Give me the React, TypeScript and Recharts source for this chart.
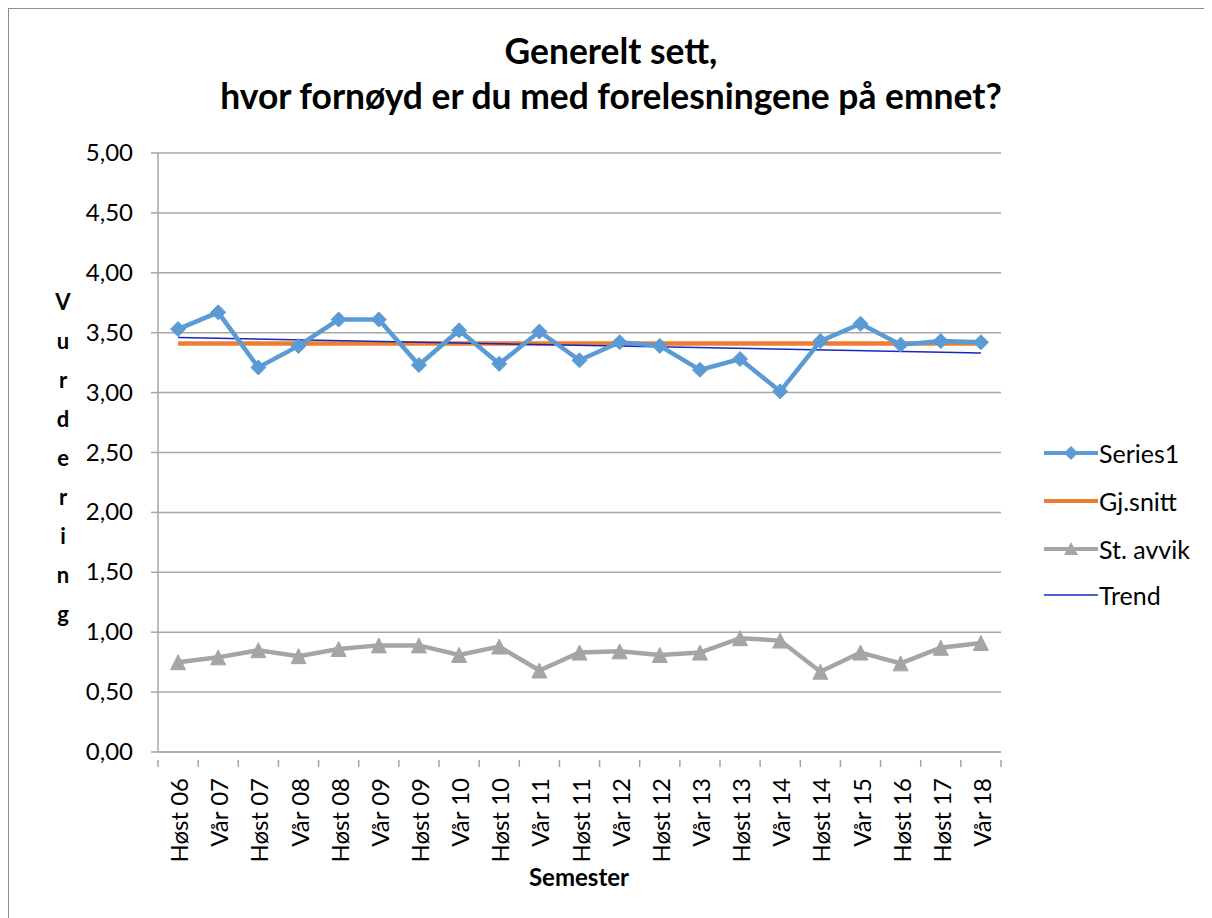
import React from "react";
import { LineChart, Line, XAxis, YAxis, CartesianGrid } from "recharts";

const categories = [
  "Høst 06", "Vår 07", "Høst 07", "Vår 08", "Høst 08", "Vår 09", "Høst 09",
  "Vår 10", "Høst 10", "Vår 11", "Høst 11", "Vår 12", "Høst 12", "Vår 13",
  "Høst 13", "Vår 14", "Høst 14", "Vår 15", "Høst 16", "Høst 17", "Vår 18",
];
const series1 = [
  3.53, 3.67, 3.21, 3.39, 3.61, 3.61, 3.23, 3.52, 3.24, 3.51, 3.27, 3.42,
  3.39, 3.19, 3.28, 3.01, 3.43, 3.575, 3.40, 3.43, 3.42,
];
const gjSnitt = [
  3.41, 3.41, 3.41, 3.41, 3.41, 3.41, 3.41, 3.41, 3.41, 3.41, 3.41, 3.41,
  3.41, 3.41, 3.41, 3.41, 3.41, 3.41, 3.41, 3.41, 3.41,
];
const stAvvik = [
  0.75, 0.79, 0.85, 0.80, 0.86, 0.89, 0.89, 0.81, 0.88, 0.68, 0.83, 0.84,
  0.81, 0.83, 0.95, 0.93, 0.67, 0.83, 0.74, 0.87, 0.91,
];
// trend line end points (first and last category)
const trendStart = 3.46;
const trendEnd = 3.33;
const yTicks = [0, 0.5, 1, 1.5, 2, 2.5, 3, 3.5, 4, 4.5, 5];

const data = categories.map((c, i) => ({
  cat: c,
  s1: series1[i],
  avg: gjSnitt[i],
  sd: stAvvik[i],
  trend: i === 0 ? trendStart : i === categories.length - 1 ? trendEnd : null,
}));

const FONT = "Lato, 'Open Sans', sans-serif";
const GRID = "#a6a6a6";
const C1 = "#5b9bd5";
const C2 = "#ed7d31";
const C3 = "#a5a5a5";
const C4 = "#1428c0";
const HALF_BAND = 843 / 21 / 2;

const Diamond = (props: any) => {
  const { cx, cy } = props;
  if (cx == null || cy == null) return null;
  const r = 7.5;
  return (
    <polygon
      points={`${cx},${cy - r} ${cx + r},${cy} ${cx},${cy + r} ${cx - r},${cy}`}
      fill={C1}
      stroke={C1}
      strokeWidth={1}
    />
  );
};

const Triangle = (props: any) => {
  const { cx, cy } = props;
  if (cx == null || cy == null) return null;
  const h = 7.5;
  return (
    <polygon
      points={`${cx},${cy - h} ${cx + h},${cy + h} ${cx - h},${cy + h}`}
      fill={C3}
      stroke={C3}
      strokeWidth={1}
    />
  );
};

const XTick = (props: any) => {
  const { x, y, payload, index } = props;
  const half = payload && payload.offset ? payload.offset : HALF_BAND;
  return (
    <g>
      <line x1={x + half} y1={y} x2={x + half} y2={y + 7} stroke={GRID} strokeWidth={1.5} />
      {index === 0 && (
        <line x1={x - half} y1={y} x2={x - half} y2={y + 7} stroke={GRID} strokeWidth={1.5} />
      )}
      <text
        x={0}
        y={0}
        transform={`translate(${x + 10},${y + 18}) rotate(-90)`}
        textAnchor="end"
        fontFamily={FONT}
        fontSize={24}
        fill="#000"
      >
        {payload.value}
      </text>
    </g>
  );
};

const YTick = (props: any) => {
  const { x, y, payload } = props;
  return (
    <text x={x - 16} y={y} dy={8} textAnchor="end" fontFamily={FONT} fontSize={24} fill="#000">
      {payload.value.toFixed(2).replace(".", ",")}
    </text>
  );
};

const LegendIcon = ({ kind }: { kind: number }) => {
  const w = 54;
  return (
    <svg width={w} height={20} style={{ display: "block" }}>
      {kind === 0 && (
        <>
          <line x1={0} y1={10} x2={w} y2={10} stroke={C1} strokeWidth={4} />
          <polygon points={`27,3 34,10 27,17 20,10`} fill={C1} />
        </>
      )}
      {kind === 1 && <line x1={0} y1={10} x2={w} y2={10} stroke={C2} strokeWidth={4} />}
      {kind === 2 && (
        <>
          <line x1={0} y1={10} x2={w} y2={10} stroke={C3} strokeWidth={4} />
          <polygon points={`27,3 34,16 20,16`} fill={C3} />
        </>
      )}
      {kind === 3 && <line x1={0} y1={10} x2={w} y2={10} stroke={C4} strokeWidth={1.5} />}
    </svg>
  );
};

const legendItems = ["Series1", "Gj.snitt", "St. avvik", "Trend"];
const legendTops = [452, 500, 548, 594];
const yLabelLetters = ["V", "u", "r", "d", "e", "r", "i", "n", "g"];

export default function App() {
  return (
    <div
      style={{
        position: "relative",
        width: 1205,
        height: 911,
        marginLeft: -1,
        marginTop: -1,
        borderLeft: "2px solid #8c8c8c",
        borderTop: "2px solid #8c8c8c",
        boxSizing: "border-box",
        background: "#fff",
        fontFamily: FONT,
        overflow: "hidden",
      }}
    >
      <div
        style={{
          position: "absolute",
          left: 0,
          width: 1204,
          top: 19,
          textAlign: "center",
          fontWeight: 700,
          fontSize: 35.4,
          lineHeight: "45px",
          color: "#000",
          whiteSpace: "nowrap",
        }}
      >
        <div>Generelt sett,</div>
        <div>hvor fornøyd er du med forelesningene på emnet?</div>
      </div>

      {yLabelLetters.map((l, i) => (
        <div
          key={i}
          style={{
            position: "absolute",
            left: 34,
            width: 40,
            textAlign: "center",
            top: 289 + i * 39 - 8,
            fontWeight: 700,
            fontSize: 22,
            lineHeight: "24px",
          }}
        >
          {l}
        </div>
      ))}

      <div
        style={{
          position: "absolute",
          left: 370,
          width: 400,
          textAlign: "center",
          top: 862 - 8,
          fontWeight: 700,
          fontSize: 24,
          lineHeight: "28px",
        }}
      >
        Semester
      </div>

      {legendItems.map((t, i) => (
        <div
          key={t}
          style={{
            position: "absolute",
            left: 1043 - 8,
            top: legendTops[i] - 8 - 14,
            display: "flex",
            alignItems: "center",
            height: 28,
            fontSize: 25,
            whiteSpace: "nowrap",
          }}
        >
          <LegendIcon kind={i} />
          <span style={{ marginLeft: 1 }}>{t}</span>
        </div>
      ))}

      <div style={{ position: "absolute", left: 0, top: 0 }}>
        <LineChart
          width={1204}
          height={910}
          data={data}
          margin={{ top: 144, right: 212, bottom: 57, left: 82 }}
        >
          <CartesianGrid vertical={false} stroke={GRID} strokeWidth={1.5} />
          <XAxis
            dataKey="cat"
            interval={0}
            height={110}
            stroke={GRID}
            strokeWidth={1.5}
            tickLine={false}
            padding={{ left: HALF_BAND, right: HALF_BAND }}
            tick={<XTick />}
          />
          <YAxis
            domain={[0, 5]}
            ticks={yTicks}
            interval={0}
            width={67}
            stroke={GRID}
            strokeWidth={1.5}
            tickSize={7}
            tickLine={{ stroke: GRID, strokeWidth: 1.5 }}
            tick={<YTick />}
          />
          <Line
            dataKey="avg"
            stroke={C2}
            strokeWidth={4.5}
            dot={false}
            isAnimationActive={false}
          />
          <Line
            dataKey="trend"
            stroke={C4}
            strokeWidth={1.5}
            dot={false}
            connectNulls
            isAnimationActive={false}
          />
          <Line
            dataKey="s1"
            stroke={C1}
            strokeWidth={4.5}
            dot={<Diamond />}
            activeDot={false}
            isAnimationActive={false}
          />
          <Line
            dataKey="sd"
            stroke={C3}
            strokeWidth={4.5}
            dot={<Triangle />}
            activeDot={false}
            isAnimationActive={false}
          />
        </LineChart>
      </div>
    </div>
  );
}
